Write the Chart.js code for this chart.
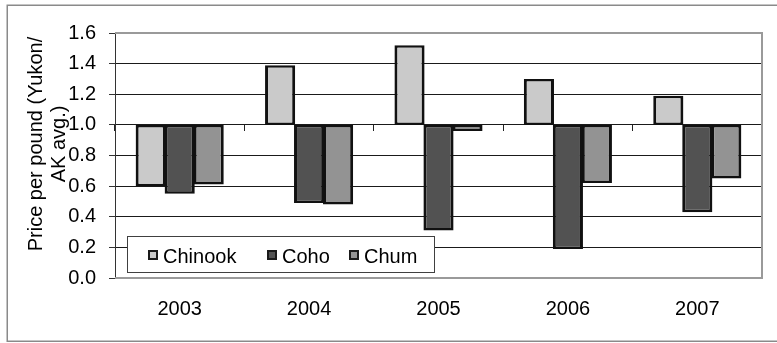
<!DOCTYPE html>
<html>
<head>
<meta charset="utf-8">
<script src="https://cdn.jsdelivr.net/npm/chart.js@4.4.1/dist/chart.umd.min.js"></script>
<style>
  html, body { margin: 0; padding: 0; background: #ffffff; }
  #wrap { width: 777px; height: 343px; position: relative; }
</style>
</head>
<body>
<div id="wrap"><canvas id="c" width="777" height="343"></canvas></div>
<script>
// ---- data ----
const years = ['2003', '2004', '2005', '2006', '2007'];
const seriesNames = ['Chinook', 'Coho', 'Chum'];
const chinook = [0.60, 1.39, 1.52, 1.30, 1.19];
const coho = [0.55, 0.49, 0.31, 0.19, 0.43];
const chum = [0.61, 0.48, 0.96, 0.62, 0.65];
const baseValue = 1.0;
const yMin = 0.0, yMax = 1.6, yStep = 0.2;
const yTitleLines = ['Price per pound (Yukon/', 'AK avg.)'];

const colors = ['#cacaca', '#525252', '#939393'];
const FONT = "'Liberation Sans', Arial, sans-serif";

const chartBg = {
  id: 'chartBg',
  beforeDraw(chart) {
    const ctx = chart.ctx;
    ctx.save();
    ctx.fillStyle = '#ffffff';
    ctx.fillRect(0, 0, chart.width, chart.height);
    ctx.strokeStyle = '#8a8a8a';
    ctx.lineWidth = 1.5;
    ctx.strokeRect(7.25, 5.25, chart.width + 20, 336);
    ctx.restore();
  },
  beforeDatasetsDraw(chart) {
    const ctx = chart.ctx;
    const a = chart.chartArea;
    ctx.save();
    ctx.strokeStyle = '#9a9a9a';
    ctx.lineWidth = 2;
    ctx.beginPath();
    ctx.moveTo(a.left, a.top);
    ctx.lineTo(a.right, a.top);
    ctx.lineTo(a.right, a.bottom);
    ctx.lineTo(a.left, a.bottom);
    ctx.stroke();
    ctx.restore();
  },
  afterDraw(chart) {
    const ctx = chart.ctx;
    ctx.save();
    // y axis title (overlaps tick labels as in the original)
    ctx.fillStyle = '#000';
    ctx.font = '20px ' + FONT;
    ctx.textAlign = 'center';
    ctx.textBaseline = 'middle';
    const cy = 144;
    const xs = [36, 59];
    yTitleLines.forEach((t, i) => {
      ctx.save();
      ctx.translate(xs[i], cy);
      ctx.rotate(-Math.PI / 2);
      ctx.fillText(t, 0, 0);
      ctx.restore();
    });
    // legend box
    const lx = 127, ly = 236, lw = 307, lh = 36;
    ctx.fillStyle = '#ffffff';
    ctx.fillRect(lx, ly, lw, lh);
    ctx.strokeStyle = '#404040';
    ctx.lineWidth = 1;
    ctx.strokeRect(lx + 0.5, ly + 0.5, lw, lh);
    const markerX = [148, 267, 349];
    ctx.font = '20px ' + FONT;
    ctx.textAlign = 'left';
    ctx.textBaseline = 'alphabetic';
    seriesNames.forEach((name, i) => {
      const mx = markerX[i], my = 250;
      ctx.fillStyle = colors[i];
      ctx.fillRect(mx, my, 10, 10);
      ctx.strokeStyle = '#1a1a1a';
      ctx.lineWidth = 2;
      ctx.strokeRect(mx + 1, my + 1, 8, 8);
      ctx.fillStyle = '#000';
      ctx.fillText(name, mx + 15, 263);
    });
    ctx.restore();
  }
};

const datasets = [chinook, coho, chum].map((vals, i) => ({
  label: seriesNames[i],
  data: vals.map(v => [baseValue, v]),
  backgroundColor: colors[i],
  borderColor: '#111111',
  borderWidth: { top: 2.5, bottom: 2.5, left: 3, right: 3 },
  borderSkipped: false,
  inflateAmount: 0,
  categoryPercentage: 0.672,
  barPercentage: 1.04
}));

new Chart(document.getElementById('c'), {
  type: 'bar',
  data: { labels: years, datasets },
  options: {
    responsive: false,
    animation: false,
    devicePixelRatio: 1,
    layout: { padding: { left: 8, top: 33, right: 15, bottom: 0 } },
    plugins: {
      legend: { display: false },
      title: { display: false },
      tooltip: { enabled: false }
    },
    scales: {
      x: {
        type: 'category',
        position: 'bottom',
        offset: true,
        grid: { display: false, drawTicks: false },
        border: { display: false },
        ticks: { color: '#000', font: { size: 20, family: FONT }, padding: 19, maxRotation: 0 },
        afterFit(s) { s.height = 65; }
      },
      x2: {
        type: 'category',
        axis: 'x',
        labels: years,
        position: { y: baseValue },
        offset: true,
        grid: { offset: true, drawOnChartArea: false, drawTicks: true, tickLength: 6, color: '#222', tickColor: '#222', tickWidth: 1 },
        border: { display: false },
        ticks: { display: false }
      },
      y: {
        type: 'linear',
        min: yMin,
        max: yMax,
        ticks: {
          stepSize: yStep,
          color: '#000',
          font: { size: 20, family: FONT },
          padding: 13,
          callback: v => Number(v).toFixed(1)
        },
        grid: {
          color: c => (c.tick && (Math.abs(c.tick.value - yMin) < 1e-6 || Math.abs(c.tick.value - yMax) < 1e-6)) ? 'rgba(0,0,0,0)' : '#1a1a1a',
          lineWidth: 1,
          tickColor: '#333',
          tickLength: 6,
          tickWidth: 1
        },
        border: { display: true, color: '#333', width: 1 },
        afterFit(s) { s.width = 107; }
      }
    }
  },
  plugins: [chartBg]
});
</script>
</body>
</html>
